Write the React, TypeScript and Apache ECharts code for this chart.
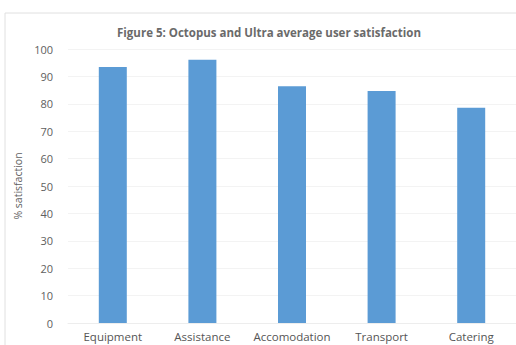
import React, { useEffect, useRef } from "react";
import * as echarts from "echarts";

const categories = ["Equipment", "Assistance", "Accomodation", "Transport", "Catering"];
const satisfaction = [93.4, 96.1, 86.4, 84.7, 78.6];
const titleText = "Figure 5: Octopus and Ultra average user satisfaction";
const yAxisName = "% satisfaction";

export default function App() {
  const ref = useRef<HTMLDivElement>(null);
  useEffect(() => {
    if (!ref.current) return;
    const chart = echarts.init(ref.current, null, { renderer: "svg" });
    chart.setOption({
      animation: false,
      backgroundColor: "#ffffff",
      title: {
        text: titleText,
        left: 264,
        top: 21,
        textAlign: "center",
        textStyle: { fontFamily: "Open Sans", fontSize: 11.5, fontWeight: "bold", color: "#6a6a6a" },
      },
      graphic: [
        {
          type: "polyline",
          shape: { points: [[5, 345], [5, 13], [516, 13]] },
          style: { stroke: "#e0e0e0", lineWidth: 1, fill: "none" },
          silent: true,
        },
      ],
      grid: { left: 68, right: -2, top: 49, bottom: 22, containLabel: false },
      xAxis: {
        type: "category",
        data: categories,
        axisLine: { show: true, lineStyle: { color: "#ededed" } },
        axisTick: { show: false },
        axisLabel: { color: "#555555", fontFamily: "Open Sans", fontSize: 11.5, margin: 6, interval: 0, lineHeight: 14 },
      },
      yAxis: {
        type: "value",
        min: 0,
        max: 100,
        interval: 10,
        name: yAxisName,
        nameLocation: "middle",
        nameGap: 35,
        nameTextStyle: { color: "#606060", fontFamily: "Open Sans", fontSize: 10.5 },
        axisLine: { show: false },
        axisTick: { show: false },
        axisLabel: { color: "#606060", fontFamily: "Open Sans", fontSize: 11, margin: 15 },
        splitLine: { lineStyle: { color: "#f3f3f3" } },
      },
      series: [
        {
          type: "bar",
          data: satisfaction,
          barWidth: 28,
          itemStyle: { color: "#5b9bd5" },
        },
      ],
    });
    return () => chart.dispose();
  }, []);
  return <div ref={ref} style={{ position: "fixed", left: 0, top: 0, width: 516, height: 345 }} />;
}
